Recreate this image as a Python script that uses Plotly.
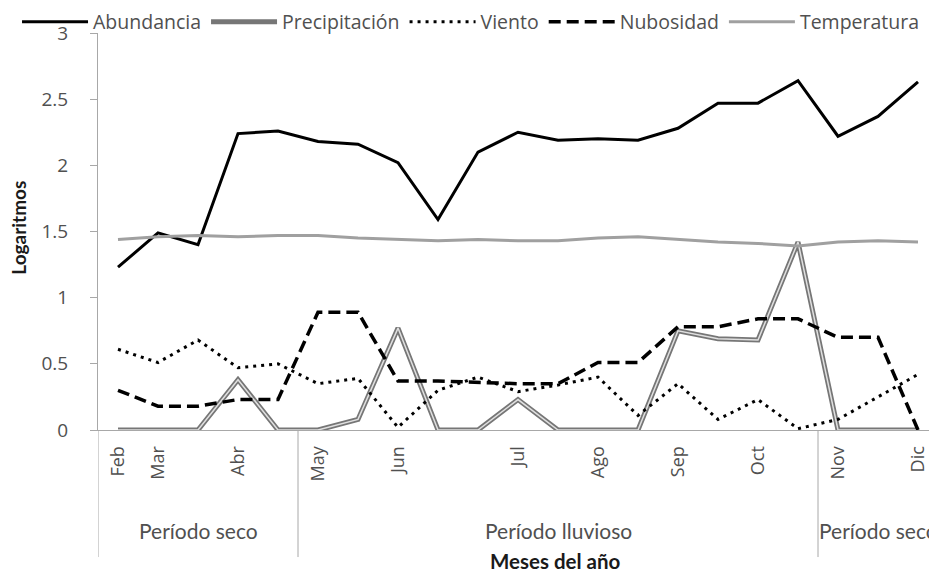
import plotly.graph_objects as go

meses = ["Feb", "Mar", "", "Abr", "", "May", "", "Jun", "", "", "Jul", "",
         "Ago", "", "Sep", "", "Oct", "", "Nov", "", "Dic"]
periodos = (["Período seco"] * 5 + ["Período lluvioso"] * 13 + ["Período seco"] * 3)

abundancia = [1.23, 1.49, 1.40, 2.24, 2.26, 2.18, 2.16, 2.02, 1.59, 2.10, 2.25,
              2.19, 2.20, 2.19, 2.28, 2.47, 2.47, 2.64, 2.22, 2.37, 2.63]
precipitacion = [0, 0, 0, 0.38, 0, 0, 0.08, 0.77, 0, 0, 0.23,
                 0, 0, 0, 0.75, 0.69, 0.68, 1.42, 0, 0, 0]
viento = [0.61, 0.51, 0.68, 0.47, 0.50, 0.35, 0.39, 0.02, 0.30, 0.40, 0.29,
          0.34, 0.40, 0.11, 0.35, 0.08, 0.23, 0.01, 0.08, 0.25, 0.42]
nubosidad = [0.30, 0.18, 0.18, 0.23, 0.23, 0.89, 0.89, 0.37, 0.37, 0.36, 0.35,
             0.35, 0.51, 0.51, 0.78, 0.78, 0.84, 0.84, 0.70, 0.70, 0.0]
temperatura = [1.44, 1.46, 1.47, 1.46, 1.47, 1.47, 1.45, 1.44, 1.43, 1.44, 1.43,
               1.43, 1.45, 1.46, 1.44, 1.42, 1.41, 1.39, 1.42, 1.43, 1.42]

x = list(range(len(meses)))
TXT = "#505050"
FONT = "Open Sans"
NARROW = "Lato"

fig = go.Figure()
fig.add_trace(go.Scatter(x=x, y=abundancia, name="Abundancia", mode="lines",
                         line=dict(color="black", width=3)))
fig.add_trace(go.Scatter(x=x, y=precipitacion, name="Precipitación", mode="lines",
                         line=dict(color="#767676", width=5)))
fig.add_trace(go.Scatter(x=x, y=precipitacion, name="Precipitación", mode="lines",
                         showlegend=False, hoverinfo="skip",
                         line=dict(color="#e0e0e0", width=1.5)))
fig.add_trace(go.Scatter(x=x, y=viento, name="Viento", mode="lines",
                         line=dict(color="black", width=3, dash="3px,5px")))
fig.add_trace(go.Scatter(x=x, y=nubosidad, name="Nubosidad", mode="lines",
                         line=dict(color="black", width=3.5, dash="12px,6px")))
fig.add_trace(go.Scatter(x=x, y=temperatura, name="Temperatura", mode="lines",
                         line=dict(color="#a0a0a0", width=3)))

# group dividers and labels
bounds = [-0.5]
for i in range(1, len(periodos)):
    if periodos[i] != periodos[i - 1]:
        bounds.append(i - 0.5)
bounds.append(len(periodos) - 0.5)
shapes = []
annotations = []
for b in bounds:
    shapes.append(dict(type="line", xref="x", yref="paper", x0=b, x1=b,
                       y0=0, y1=-0.32, line=dict(color="#a8a8a8", width=1)))
for a, b in zip(bounds[:-1], bounds[1:]):
    label = periodos[int(a + 0.5)]
    annotations.append(dict(x=(a + b) / 2, y=-0.254, xref="x", yref="paper",
                            xanchor="center", yanchor="middle",
                            text=label, showarrow=False,
                            font=dict(family=NARROW, size=21, color=TXT)))
annotations.append(dict(x=0.545, y=-0.33, xref="paper", yref="paper",
                        xanchor="center", yanchor="middle",
                        text="<b>Meses del año</b>", showarrow=False,
                        font=dict(family=NARROW, size=20.5, color="#1a1a1a")))
annotations.append(dict(x=-0.095, y=0.51, xref="paper", yref="paper",
                        xanchor="center", yanchor="middle",
                        text="<b>Logaritmos</b>", showarrow=False, textangle=-90,
                        font=dict(family=NARROW, size=19, color="#1a1a1a")))

tickvals = [i for i, m in enumerate(meses) if m]
ticktext = [m for m in meses if m]

fig.update_layout(
    width=937, height=572,
    # the page adds an 8px body margin, so margins are offset by 8px
    margin=dict(l=90, r=7, t=25, b=150, autoexpand=False),
    paper_bgcolor="white", plot_bgcolor="white",
    showlegend=True,
    legend=dict(orientation="h", x=-0.0964, y=1.0277, xanchor="left", yanchor="middle",
                font=dict(family=FONT, size=19.5, color=TXT),
                bgcolor="rgba(0,0,0,0)", itemwidth=66, tracegroupgap=0),
    shapes=shapes, annotations=annotations,
    xaxis=dict(range=[-0.5, len(meses) - 0.5], tickmode="array",
               tickvals=tickvals, ticktext=ticktext, tickangle=-90,
               showgrid=False, zeroline=False, showline=True, automargin=False,
               linecolor="#a8a8a8", linewidth=1, ticks="", ticklabelstandoff=8,
               tickfont=dict(family=FONT, size=18, color=TXT)),
    yaxis=dict(range=[0, 3], dtick=0.5, showgrid=False, zeroline=False,
               showline=True, linecolor="#a8a8a8", linewidth=1, automargin=False,
               ticks="outside", ticklen=7, tickcolor="#a8a8a8", ticklabelstandoff=18,
               tickfont=dict(family=FONT, size=19, color=TXT)),
)

fig.write_html("out.html")
